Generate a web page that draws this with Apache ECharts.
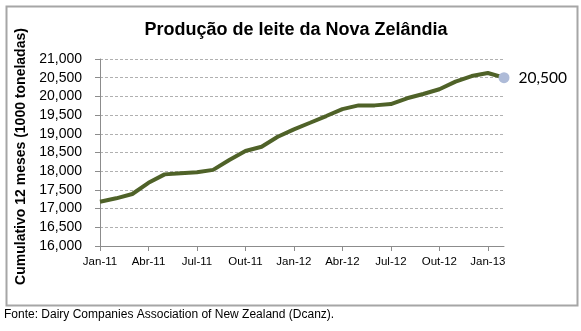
<!DOCTYPE html>
<html>
<head>
<meta charset="utf-8">
<script src="https://cdn.jsdelivr.net/npm/echarts@6/dist/echarts.min.js"></script>
<style>
  html, body { margin: 0; padding: 0; background: #fff; }
  #chart { width: 581px; height: 331px; }
</style>
</head>
<body>
<div id="chart"></div>
<script>
// Monthly points, Jan-11 to Feb-13
const months = [
  'Jan-11','Fev-11','Mar-11','Abr-11','Mai-11','Jun-11','Jul-11','Ago-11','Set-11','Out-11','Nov-11','Dez-11',
  'Jan-12','Fev-12','Mar-12','Abr-12','Mai-12','Jun-12','Jul-12','Ago-12','Set-12','Out-12','Nov-12','Dez-12',
  'Jan-13','Fev-13'
];
// 12-month cumulative milk production (1000 t)
const production = [
  17185, 17275, 17390, 17690, 17915, 17945, 17970, 18035, 18300, 18540, 18655, 18920,
  19120, 19295, 19475, 19660, 19760, 19760, 19795, 19950, 20065, 20190, 20395, 20545,
  20625, 20500
];
const titleText = 'Produção de leite da Nova Zelândia';
const yAxisTitle = 'Cumulativo 12 meses (1000 toneladas)';
const sourceText = 'Fonte: Dairy Companies Association of New Zealand (Dcanz).';

const chart = echarts.init(document.getElementById('chart'), null, { renderer: 'canvas' });
const lastIdx = production.length - 1;

chart.setOption({
  animation: false,
  backgroundColor: '#ffffff',
  title: {
    text: titleText,
    left: 291, top: 16, textAlign: 'center',
    textStyle: { fontFamily: 'Liberation Sans', fontWeight: 'bold', fontSize: 18, color: '#000' }
  },
  graphic: [
    {
      type: 'rect', left: 4, top: 4, silent: true,
      shape: { width: 571, height: 299 },
      style: { fill: 'none', stroke: '#a6a6a6', lineWidth: 2 }
    },
    {
      type: 'text', left: 4, top: 309,
      style: { text: sourceText, font: '12px "Liberation Sans"', fill: '#000' }
    }
  ],
  grid: { left: 100, right: 77, top: 59, bottom: 85, containLabel: false },
  xAxis: {
    type: 'category',
    data: months,
    boundaryGap: false,
    axisLine: { lineStyle: { color: '#8c8c8c', width: 1 } },
    axisTick: { show: true, interval: 2, length: 5, lineStyle: { color: '#8c8c8c' } },
    axisLabel: {
      interval: 2, margin: 10,
      fontFamily: 'Liberation Sans', fontSize: 11.5, color: '#000'
    },
    splitLine: { show: false }
  },
  yAxis: {
    type: 'value',
    min: 16000, max: 21000, interval: 500,
    name: yAxisTitle,
    nameLocation: 'middle',
    nameGap: 70,
    nameTextStyle: {
      fontFamily: 'Liberation Sans', fontWeight: 'bold', fontSize: 14, color: '#000',
      padding: [0, 8, 0, 0]
    },
    axisLine: { show: true, lineStyle: { color: '#8c8c8c', width: 1 } },
    axisTick: { show: true, length: 5, lineStyle: { color: '#8c8c8c' } },
    axisLabel: {
      margin: 18,
      fontFamily: 'Liberation Sans', fontSize: 14, color: '#000',
      formatter: v => v.toLocaleString('en-US')
    },
    splitLine: { show: true, lineStyle: { color: '#b0b0b0', type: [3, 2], width: 1 } }
  },
  series: [{
    type: 'line',
    data: production,
    clip: false,
    symbol: 'circle',
    showSymbol: true,
    showAllSymbol: true,
    symbolSize: (v, p) => (p.dataIndex === lastIdx ? 11 : 0),
    lineStyle: { color: '#4f6228', width: 4 },
    itemStyle: { color: '#aebbd8' },
    z: 3,
    label: {
      show: true, position: 'right', distance: 9,
      formatter: p => (p.dataIndex === lastIdx ? p.value.toLocaleString('en-US') : ''),
      fontFamily: 'Lato', fontSize: 15.5, color: '#000'
    }
  }]
});
</script>
</body>
</html>
